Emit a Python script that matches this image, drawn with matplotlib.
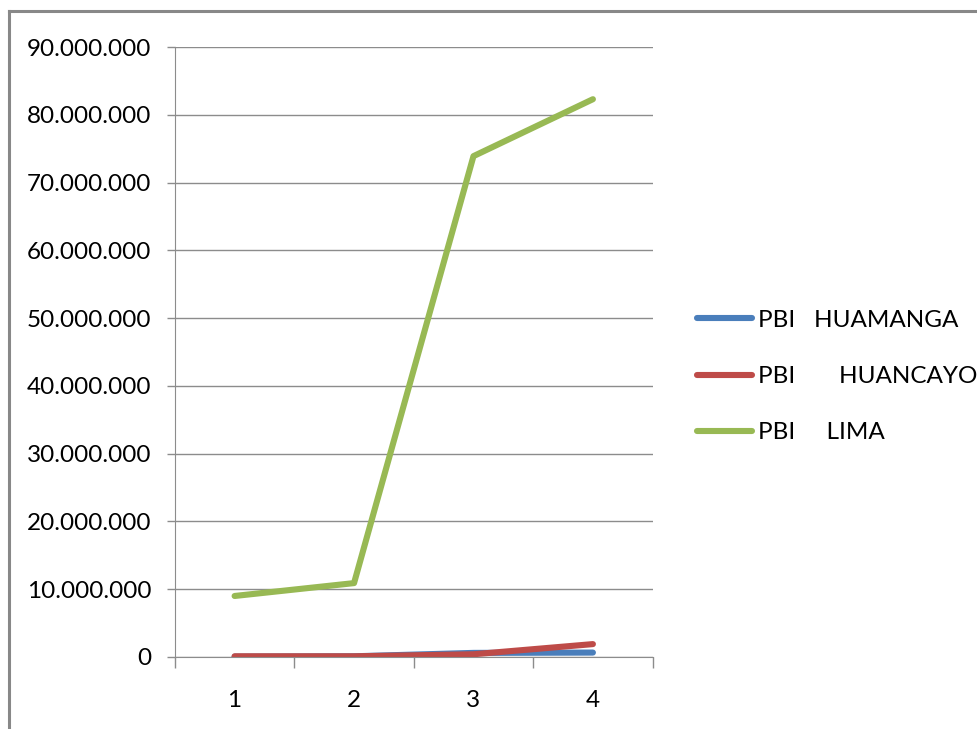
import numpy as np
import matplotlib.pyplot as plt
from matplotlib.lines import Line2D
from matplotlib.ticker import FuncFormatter, FixedLocator

plt.rcParams['font.family'] = ['Lato', 'DejaVu Sans']

periods = [1, 2, 3, 4]
pbi_huamanga = [50000, 100000, 600000, 650000]
pbi_huancayo = [100000, 100000, 400000, 1900000]
pbi_lima = [9000000, 10900000, 73900000, 82300000]

labels = ["PBI   HUAMANGA", "PBI       HUANCAYO", "PBI     LIMA"]
colors = ["#4A7EBB", "#BE4B48", "#98B954"]

fig = plt.figure(figsize=(9.77, 7.29), dpi=100)
ax = fig.add_axes([0.179, 0.0988, 0.489, 0.8367])

x = np.arange(len(periods))
for vals, lab, col in zip([pbi_huamanga, pbi_huancayo, pbi_lima], labels, colors):
    ax.plot(x, vals, color=col, lw=4.4, label=lab, solid_capstyle='round')

ax.set_xlim(-0.5, len(periods) - 0.5)
ax.set_ylim(0, 90000000)
ax.set_yticks(np.arange(0, 90000001, 10000000))
ax.yaxis.set_major_formatter(FuncFormatter(lambda v, p: f"{int(v):,}".replace(",", ".")))
ax.grid(axis='y', color='#8c8c8c', lw=1)
ax.set_axisbelow(True)

ax.set_xticks(x)
ax.set_xticklabels([str(p) for p in periods])
ax.xaxis.set_minor_locator(FixedLocator(np.arange(-0.5, len(periods), 1.0)))
ax.tick_params(axis='x', which='major', length=0, pad=24, labelsize=17.5)
ax.tick_params(axis='x', which='minor', length=8, color='#8c8c8c', width=1)
ax.tick_params(axis='y', length=6, color='#8c8c8c', width=1, pad=11, labelsize=17.5)

for s in ['top', 'right']:
    ax.spines[s].set_visible(False)
for s in ['left', 'bottom']:
    ax.spines[s].set_color('#8c8c8c')

handles = [Line2D([0], [0], color=c, lw=4.4, solid_capstyle='round') for c in colors]
fig.legend(handles, labels, loc='center left', bbox_to_anchor=(0.691, 0.4835),
           frameon=False, fontsize=17.5, handlelength=2.26, handletextpad=0.25,
           labelspacing=1.45)

# outer frame (left and top edges)
fig.add_artist(Line2D([9 / 977, 9 / 977], [0, 1 - 11 / 729], color='#888888', lw=2.2,
                      transform=fig.transFigure))
fig.add_artist(Line2D([9 / 977, 1], [1 - 11 / 729, 1 - 11 / 729], color='#888888', lw=2.2,
                      transform=fig.transFigure))

fig.savefig("out.png", dpi=100)
